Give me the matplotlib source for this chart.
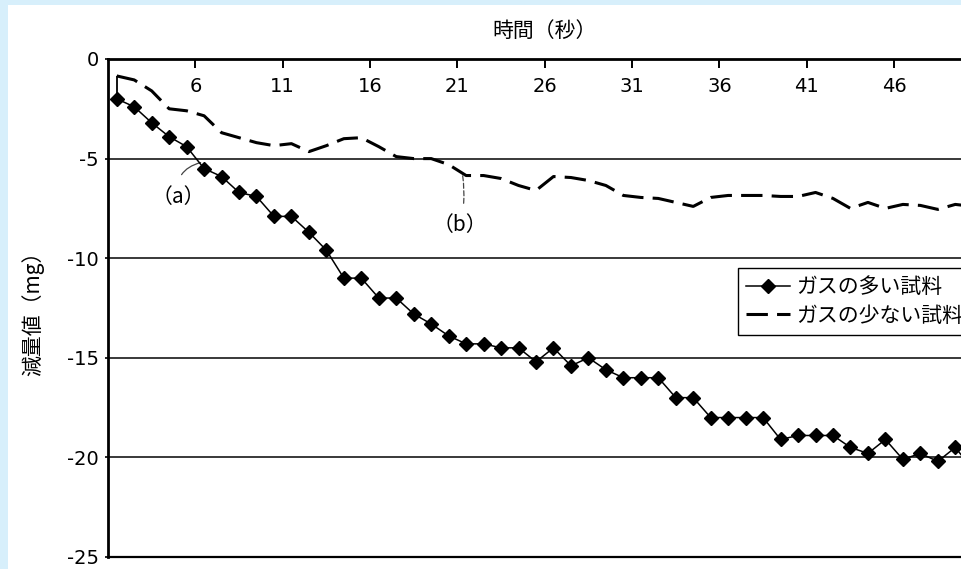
import matplotlib
matplotlib.use("Agg")
import matplotlib.pyplot as plt
from matplotlib.patches import Rectangle
import numpy as np

# ---- data ----
seconds = list(range(1, 51))
gas_many = [-2.0, -2.4, -3.2, -3.9, -4.4, -5.5, -5.9, -6.7, -6.9, -7.9,
            -7.9, -8.7, -9.6, -11.0, -11.0, -12.0, -12.0, -12.8, -13.3, -13.9,
            -14.3, -14.3, -14.5, -14.5, -15.2, -14.5, -15.4, -15.0, -15.6, -16.0,
            -16.0, -16.0, -17.0, -17.0, -18.0, -18.0, -18.0, -18.0, -19.1, -18.9,
            -18.9, -18.9, -19.5, -19.8, -19.1, -20.1, -19.8, -20.2, -19.5, -20.6]
gas_few = [-0.85, -1.05, -1.6, -2.5, -2.6, -2.85, -3.7, -3.95, -4.2, -4.35,
           -4.25, -4.65, -4.35, -4.0, -3.95, -4.4, -4.9, -5.0, -5.0, -5.3,
           -5.85, -5.85, -6.0, -6.35, -6.6, -5.9, -5.95, -6.1, -6.35, -6.85,
           -6.95, -7.0, -7.2, -7.4, -6.95, -6.85, -6.85, -6.85, -6.9, -6.9,
           -6.7, -7.0, -7.5, -7.2, -7.5, -7.3, -7.35, -7.55, -7.3, -7.4]
x_ticks = [6, 11, 16, 21, 26, 31, 36, 41, 46]
y_ticks = [0, -5, -10, -15, -20, -25]
label_many = "ガスの多い試料"
label_few = "ガスの少ない試料"
x_title = "時間（秒）"
y_title = "減量値（mg）"

W, H = 962, 569
fig = plt.figure(figsize=(W / 100, H / 100), dpi=100, facecolor="#d7effb")
fig.add_artist(Rectangle((8 / W, 0), 1, 1 - 5 / H, transform=fig.transFigure,
                         facecolor="white", edgecolor="none", zorder=-5))

left, top, bottom = 108 / W, 1 - 59 / H, 1 - 557 / H
ax = fig.add_axes([left, bottom, 50 * 17.47 / W, top - bottom])
ax.set_facecolor("white")

xs = np.array(seconds) + 0.5
ax.plot(xs, gas_few, color="black", lw=2.2, linestyle=(0, (7, 3)),
        label=label_few, zorder=3, solid_joinstyle="round",
        dash_joinstyle="round")
ax.plot(xs, gas_many, color="black", lw=1.1, marker="D", ms=7.5,
        label=label_many, zorder=4)
ax.vlines(xs[0], gas_many[0], gas_few[0], color="black", lw=1.3, zorder=3)

ax.set_xlim(1, 51)
ax.set_ylim(-25, 0)

cjk = ["Noto Sans CJK JP", "DejaVu Sans"]
lat = ["DejaVu Sans", "Noto Sans CJK JP"]

ax.set_xticks(x_ticks)
ax.set_xticklabels([str(v) for v in x_ticks], family=lat, fontsize=14)
ax.set_yticks(y_ticks)
ax.set_yticklabels([str(v) for v in y_ticks], family=lat, fontsize=14)
ax.tick_params(axis="x", which="both", top=True, bottom=False, labeltop=True,
               labelbottom=False, direction="in", length=6.5, width=1.4,
               pad=-27)
ax.tick_params(axis="y", direction="out", length=2, width=1.2, pad=4.5)

ax.yaxis.grid(True, color="#2a2a2a", lw=1.3)
ax.set_axisbelow(True)
for s in ["top", "left"]:
    ax.spines[s].set_linewidth(2.0)
ax.spines["bottom"].set_linewidth(1.6)
ax.spines["right"].set_visible(False)

ax.xaxis.set_label_position("top")
ax.set_xlabel(x_title, family=cjk, fontsize=15, labelpad=16)
ax.set_ylabel(y_title, family=cjk, fontsize=15, labelpad=16)

# annotations
ax.annotate("（a）", xy=(6.3, -5.2), xytext=(5.0, -6.95), family=cjk,
            fontsize=15, ha="center", va="center",
            arrowprops=dict(arrowstyle="-", color="#444444", lw=0.9,
                            shrinkA=7, shrinkB=0,
                            connectionstyle="arc3,rad=-0.45"))
ax.annotate("（b）", xy=(21.3, -5.85), xytext=(21.15, -8.35), family=cjk,
            fontsize=15, ha="center", va="center",
            arrowprops=dict(arrowstyle="-", color="#444444", lw=0.9,
                            linestyle=(0, (4, 2)), shrinkA=6, shrinkB=0,
                            connectionstyle="arc3,rad=0.1"))

handles, labels = ax.get_legend_handles_labels()
leg = fig.legend(handles[::-1], labels[::-1], loc="upper left",
                 bbox_to_anchor=(738 / W, 1 - 268 / H), borderaxespad=0,
                 prop={"family": cjk, "size": 15}, frameon=True,
                 fancybox=False, edgecolor="black", framealpha=1,
                 handlelength=2.1, handletextpad=0.3, labelspacing=0.3,
                 borderpad=0.4)
leg.get_frame().set_linewidth(1.0)

fig.savefig("out.png", dpi=100, facecolor=fig.get_facecolor())
